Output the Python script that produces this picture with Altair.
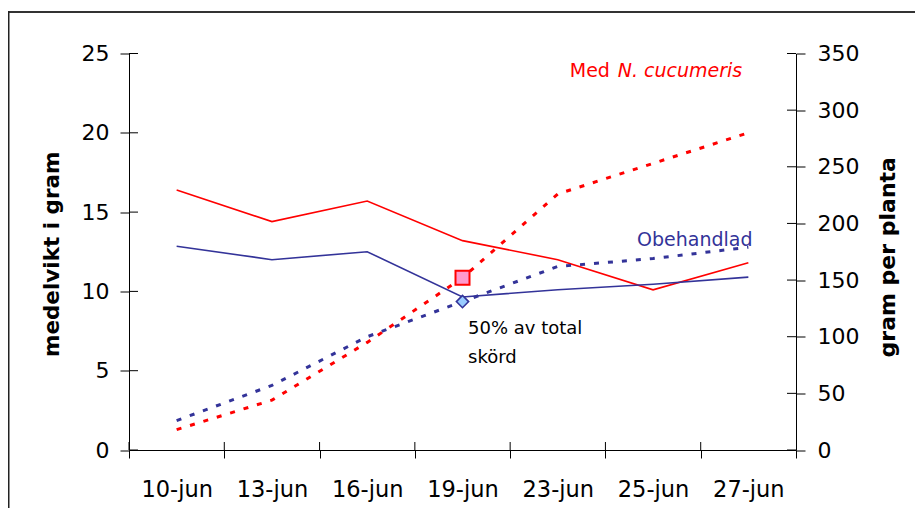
import altair as alt
import pandas as pd

# ---- data ----
DATES = ["10-jun", "13-jun", "16-jun", "19-jun", "23-jun", "25-jun", "27-jun"]
MED_WEIGHT = [16.4, 14.4, 15.7, 13.2, 12.0, 10.1, 11.8]       # medelvikt i gram (left)
OBEH_WEIGHT = [12.85, 12.0, 12.5, 9.65, 10.1, 10.45, 10.9]     # medelvikt i gram (left)
MED_CUM = [18, 44, 95, 152, 226, 253, 280]                     # gram per planta (right)
OBEH_CUM = [26, 57, 100, 131, 162, 169, 179]                   # gram per planta (right)
HALF_DATE = "19-jun"                                           # 50% av total skörd
LEFT_TICKS = [0, 5, 10, 15, 20, 25]
RIGHT_TICKS = [0, 50, 100, 150, 200, 250, 300, 350]

ANN_TEXT = ["Med", "N. cucumeris", "Obehandlad", "50% av total", "skörd"]
ANN_DATE = ["23-jun", "23-jun", "25-jun", "19-jun", "19-jun"]
ANN_VALUE = [23.5, 23.5, 12.86, 7.31, 5.49]

# ---- styling ----
W, H = 667, 396.5
RED = "#FF0000"
BLUE = "#333399"
FONT = "DejaVu Sans"

x_scale = alt.Scale(type="band", domain=DATES, paddingInner=0, paddingOuter=0)
x_axis = alt.Axis(title=None, labelAngle=0, labelFont=FONT, labelFontSize=22.5,
                  labelColor="black", labelPadding=20, tickBand="extent",
                  tickSize=8, tickColor="black", domainColor="black",
                  grid=False, labelOverlap=False)
X = alt.X("d:O", scale=x_scale, axis=x_axis, bandPosition=0.5)
X_EDGE = alt.X("d:O", scale=x_scale, axis=x_axis, bandPosition=0)

yl_axis = alt.Axis(values=LEFT_TICKS, title="medelvikt i gram", grid=False,
                   labelFont=FONT, labelFontSize=22, labelColor="black",
                   labelPadding=11, tickSize=9, tickColor="black",
                   domainColor="black", titleFont=FONT, titleFontSize=21.5,
                   titleFontWeight="bold", titleColor="black", titlePadding=18,
                   titleY=H / 2 + 2)
YL = alt.Y("v:Q", scale=alt.Scale(domain=[0, 25], nice=False), axis=yl_axis)

yr_axis = alt.Axis(orient="right", values=RIGHT_TICKS, title="gram per planta",
                   grid=False, labelFont=FONT, labelFontSize=22,
                   labelColor="black", labelPadding=12, tickSize=9,
                   tickColor="black", domainColor="black", titleFont=FONT,
                   titleFontSize=22, titleFontWeight="bold", titleColor="black",
                   titlePadding=19, titleAngle=270, titleBaseline="top",
                   titleY=H / 2 + 5)
YR = alt.Y("v:Q", scale=alt.Scale(domain=[0, 350], nice=False), axis=yr_axis)


def frame(dates, values):
    return pd.DataFrame({"d": dates, "v": values})


hi = DATES.index(HALF_DATE)

one = pd.DataFrame({"a": [0]})
border_top = alt.Chart(one).mark_rule(color="#333333", strokeWidth=2).encode(
    x=alt.value(-121), x2=alt.value(W + 130), y=alt.value(-41.5))
border_left = alt.Chart(one).mark_rule(color="#222222", strokeWidth=2).encode(
    x=alt.value(-120.5), y=alt.value(-42.5), y2=alt.value(H + 80))

red_solid = alt.Chart(frame(DATES, MED_WEIGHT)).mark_line(
    color=RED, strokeWidth=1.6).encode(x=X, y=YL)
blue_solid = alt.Chart(frame(DATES, OBEH_WEIGHT)).mark_line(
    color=BLUE, strokeWidth=1.6).encode(x=X, y=YL)

left_inner = alt.Chart(pd.DataFrame({"v": LEFT_TICKS})).mark_rule(
    color="black", strokeWidth=1).encode(y=YL, x=alt.value(0), x2=alt.value(9))
x_inner = alt.Chart(pd.DataFrame({"d": DATES})).mark_rule(
    color="black", strokeWidth=1).encode(x=X_EDGE, y=alt.value(H - 8), y2=alt.value(H))

ann_styles = [
    dict(color=RED, fontSize=19, dx=12, fontStyle="normal"),
    dict(color=RED, fontSize=19, dx=60, fontStyle="italic"),
    dict(color=BLUE, fontSize=19, dx=-16, fontStyle="normal"),
    dict(color="black", fontSize=18, dx=5.5, fontStyle="normal"),
    dict(color="black", fontSize=18, dx=5.5, fontStyle="normal"),
]
texts = []
for t, d, v, st in zip(ANN_TEXT, ANN_DATE, ANN_VALUE, ann_styles):
    texts.append(
        alt.Chart(pd.DataFrame({"d": [d], "v": [v], "t": [t]})).mark_text(
            align="left", baseline="alphabetic", font=FONT, **st
        ).encode(x=X, y=YL, text="t:N")
    )

left = alt.layer(border_top, border_left, red_solid, blue_solid, left_inner,
                 x_inner, *texts)

red_dot = alt.Chart(frame(DATES, MED_CUM)).mark_line(
    color=RED, strokeWidth=3, strokeDash=[5, 9], strokeCap="butt").encode(x=X, y=YR)
blue_dot = alt.Chart(frame(DATES, OBEH_CUM)).mark_line(
    color=BLUE, strokeWidth=3, strokeDash=[5, 9], strokeCap="butt").encode(x=X, y=YR)
right_inner = alt.Chart(pd.DataFrame({"v": RIGHT_TICKS})).mark_rule(
    color="black", strokeWidth=1).encode(y=YR, x=alt.value(W - 9), x2=alt.value(W))
square = alt.Chart(frame([HALF_DATE], [MED_CUM[hi]])).mark_point(
    shape="square", filled=True, fill="#FF99CC", stroke=RED, strokeWidth=2,
    size=196, opacity=1).encode(x=X, y=YR)
diamond = alt.Chart(frame([HALF_DATE], [OBEH_CUM[hi]])).mark_point(
    shape="diamond", filled=True, fill="#99CCFF", stroke=BLUE, strokeWidth=1.6,
    size=150, opacity=1).encode(x=X, y=YR)

right = alt.layer(red_dot, blue_dot, right_inner, square, diamond)

chart = alt.layer(left, right).resolve_scale(y="independent").properties(
    width=W, height=H,
    padding={"left": 121, "top": 45.5, "right": 119, "bottom": 58},
    autosize=alt.AutoSizeParams(type="none"),
).configure_view(stroke="transparent")

chart.save("out.html", embed_options={"renderer": "svg", "actions": False})
